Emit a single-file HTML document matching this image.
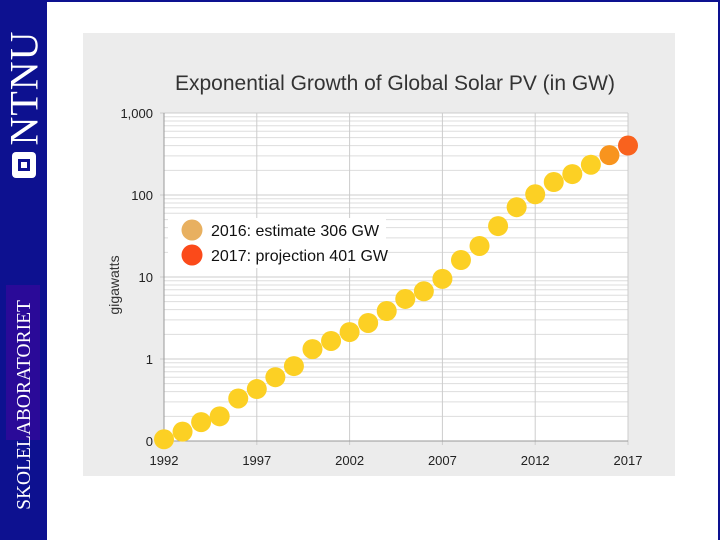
<!DOCTYPE html>
<html><head><meta charset="utf-8"><style>
body{margin:0;width:720px;height:540px;overflow:hidden;background:#fff;font-family:"Liberation Sans",sans-serif;position:relative}
#side{position:absolute;left:0;top:0;width:47px;height:540px;background:#0d1190}
#topb{position:absolute;left:47px;top:0;width:673px;height:2px;background:#0d1190}
#rb{position:absolute;right:0;top:0;width:2px;height:540px;background:#0d1190}
#panel{position:absolute;left:83px;top:33px;width:592px;height:443px;background:#ececec}
</style></head><body>
<div id="side">
<div style="position:absolute;left:24px;top:88px;transform:translate(-50%,-50%) rotate(-90deg);color:#fff;font-family:'Liberation Serif',serif;font-size:40px;white-space:nowrap;letter-spacing:1px">NTNU</div>
<div style="position:absolute;left:12px;top:152px;width:24px;height:26px;background:#fff;border-radius:4px"><div style="position:absolute;left:6px;top:7px;width:12px;height:12px;background:#0d1190"></div><div style="position:absolute;left:9px;top:10px;width:6px;height:6px;background:#fff"></div></div>
<div style="position:absolute;left:6px;top:285px;width:34px;height:155px;background:#2a0a98"></div>
<div style="position:absolute;left:25px;top:405px;transform:translate(-50%,-50%) rotate(-90deg) scaleX(1.0);color:#fff;font-family:'Liberation Serif',serif;font-size:19.5px;white-space:nowrap">SKOLELABORATORIET</div>
</div>
<div id="topb"></div><div id="rb"></div>
<div id="panel"></div>
<svg id="chart" width="720" height="540" style="position:absolute;left:0;top:0"></svg>
<script>
const years=[1992,1993,1994,1995,1996,1997,1998,1999,2000,2001,2002,2003,2004,2005,2006,2007,2008,2009,2010,2011,2012,2013,2014,2015,2016,2017];
const values=[0.105,0.13,0.17,0.2,0.33,0.43,0.6,0.82,1.32,1.66,2.13,2.75,3.85,5.4,6.7,9.5,16.1,23.9,41.8,71,102,144,180,234,306,401];
const yTicks=[0.1,1,10,100,1000];
const yTickLabels=['0','1','10','100','1,000'];
const xTicks=[1992,1997,2002,2007,2012,2017];
const NS='http://www.w3.org/2000/svg';
const svg=document.getElementById('chart');
const x0=164,x1=628,yTop=113,yBot=441;
const X=v=>x0+(v-1992)/(2017-1992)*(x1-x0);
const Y=v=>yBot-(Math.log10(v)+1)/4*(yBot-yTop);
function el(t,a,p){const e=document.createElementNS(NS,t);for(const k in a)e.setAttribute(k,a[k]);(p||svg).appendChild(e);return e;}
el('rect',{x:x0,y:yTop,width:x1-x0,height:yBot-yTop,fill:'#fff'});
for(let d=-1;d<3;d++)for(let m=2;m<10;m++){const y=Y(m*Math.pow(10,d));el('line',{x1:x0,x2:x1,y1:y,y2:y,stroke:'#ddd','stroke-width':1});}
yTicks.forEach((t,i)=>{const y=Y(t);el('line',{x1:x0-4,x2:x1,y1:y,y2:y,stroke:'#ccc','stroke-width':1});
const tx=el('text',{x:x0-11,y:y+5,'text-anchor':'end','font-size':13,fill:'#222'});tx.textContent=yTickLabels[i];

});
xTicks.forEach(t=>{const x=X(t);el('line',{x1:x,x2:x,y1:yTop,y2:yBot+4,stroke:'#ccc','stroke-width':1});
const tx=el('text',{x:x,y:yBot+24,'text-anchor':'middle','font-size':13,fill:'#222'});tx.textContent=t;

});
el('line',{x1:x0,x2:x1,y1:yBot,y2:yBot,stroke:'#999'});
el('line',{x1:x0,x2:x0,y1:yTop,y2:yBot,stroke:'#999'});
const t=el('text',{x:395,y:90,'text-anchor':'middle','font-size':21,fill:'#333'});t.textContent='Exponential Growth of Global Solar PV (in GW)';


const yt=el('text',{x:0,y:0,'text-anchor':'middle','font-size':14,fill:'#333',transform:'translate(119,285) rotate(-90)'});yt.textContent='gigawatts';


el('rect',{x:168,y:218,width:218,height:50,fill:'#fff'});
years.forEach((yr,i)=>{const c=el('circle',{cx:X(yr),cy:Y(values[i]),r:10,fill:yr===2017?'#f9621e':yr===2016?'#f8941e':'#fcd024'});

});
const leg=[['#e8b060','2016: estimate  306 GW',231],['#fb4a1a','2017: projection 401 GW',256]];
leg.forEach(l=>{el('circle',{cx:192,cy:l[2]-1,r:10.5,fill:l[0]});const tx=el('text',{x:211,y:l[2]+5,'font-size':16,fill:'#111'});tx.textContent=l[1];

});
</script>
</body></html>
